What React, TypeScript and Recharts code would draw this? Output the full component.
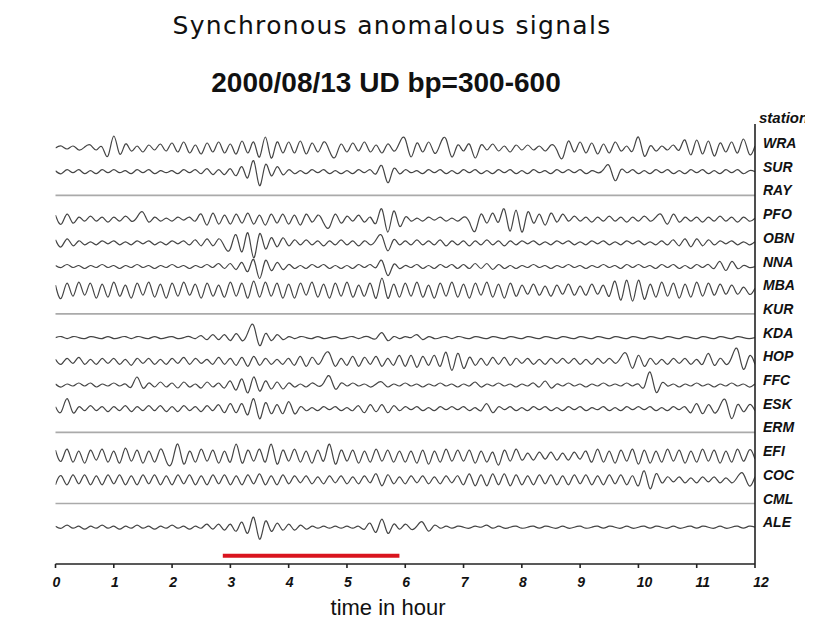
import React from "react";
import {
  LineChart,
  Line,
  XAxis,
  YAxis,
  ReferenceLine,
} from "recharts";

// hour ticks and sample step (traces sampled every 0.1 h)
const HOURS = [0, 1, 2, 3, 4, 5, 6, 7, 8, 9, 10, 11, 12];
const STEP = 0.1;

const STATIONS = [
  "WRA", "SUR", "RAY", "PFO", "OBN", "NNA", "MBA", "KUR", "KDA",
  "HOP", "FFC", "ESK", "ERM", "EFI", "COC", "CML", "ALE",
];

// band-passed amplitudes (px-ish units, up = positive)
const WRA = [
  0, 2, -1, 2, -2, 1, 3, -2, 1, -8,
  12, -6, 4, -3, 2, -4, 3, -2, 4, -3,
  5, -4, 6, -5, 3, -6, 5, -4, 6, -5,
  4, -6, 7, -5, 6, -9, 11, -10, 6, -5,
  6, -5, 7, -6, 5, -4, 6, -3, -9, 4,
  -4, 5, -3, 6, -4, 3, -5, 4, -3, 5,
  9, -9, 5, -4, 6, -5, 4, 9, -9, 3,
  -3, 4, -10, 3, -2, 4, -3, 2, -4, 3,
  -2, 3, -2, 2, -3, 3, -2, -10, 7, -4,
  6, -5, 5, -6, 4, -5, 6, -3, 2, -3,
  11, -8, 2, -3, 2, -2, 3, -2, 8, -7,
  8, -6, 7, -8, 5, -4, 6, -5, 9, -6,
  2,
];
const SUR = [
  1, -2, 2, -1, 2, -2, 1, -2, 2, -1,
  2, -1, 1, -2, 2, -1, 2, -2, 1, -1,
  1, -2, 2, -1, 2, -2, 3, -3, 2, -3,
  3, -4, 5, -6, 11, -14, 7, -4, 5, -3,
  2, -2, 1, -2, 2, -1, 2, -2, 1, -2,
  1, -2, 2, -1, 2, -2, 6, -11, 3, -2,
  2, -1, 1, -2, 2, -1, 2, -2, 1, -2,
  2, -1, 2, -2, 1, -2, 2, -1, 2, -2,
  1, -2, 2, -1, 1, -2, 2, -1, 2, -1,
  2, -2, 1, -1, 2, 6, -9, 2, -1, 2,
  -2, 1, -2, 2, -1, 2, -2, 1, -2, 2,
  -1, 2, -2, 1, -2, 2, -1, 2, -2, 1,
  0,
];
const PFO = [
  4, -5, 5, -4, 2, -2, 3, -2, 2, -3,
  2, -2, 3, -2, 2, 7, -3, 2, -2, 1,
  -2, 2, -1, 2, -2, 5, -6, 6, -5, 4,
  -5, 5, -4, 6, -5, 4, -6, 5, -4, 5,
  -5, 4, -6, 5, -3, 4, -4, -8, 5, -4,
  3, -2, 4, -3, 2, -4, 10, -13, 8, -7,
  2, -2, 1, -2, 2, -1, 2, -2, 1, -2,
  2, -3, -12, 5, -4, 6, -3, 10, -12, 9,
  -13, 7, -4, 5, -6, 6, -3, 5, -2, 3,
  -2, 2, -3, 2, -2, 3, -2, 2, -3, 2,
  -2, 3, -2, 2, 4, -5, 5, -3, 2, -2,
  2, -3, 2, -2, 3, -2, 2, -3, 2, -2,
  1,
];
const OBN = [
  3, -4, 4, -3, 2, -2, 1, -2, 2, -1,
  2, -2, 1, -2, 2, -1, 2, -2, 1, -2,
  2, -1, 2, -2, 3, -3, 4, -3, 4, -4,
  -6, 8, -9, 10, -15, 9, -6, 5, -4, 5,
  -3, 3, -2, 3, -2, 2, -3, 2, -2, 3,
  -2, 2, -3, 2, -2, 3, 7, -8, 3, -2,
  2, -2, 3, -2, 2, -2, 3, -3, 2, -2,
  2, -3, 2, -2, 3, -2, 2, -3, 2, -2,
  2, -1, 2, -2, 1, -2, 2, -1, 2, -2,
  1, -2, 2, -1, 2, -2, 1, -2, 2, -1,
  2, -2, 1, -2, 2, -2, 3, -3, 4, -4,
  4, -3, 3, -2, 2, -1, 2, -2, 1, -2,
  1,
];
const NNA = [
  1, -1, 2, -1, 1, -2, 1, -1, 2, -1,
  1, -2, 1, -1, 2, -1, 1, -2, 1, -1,
  2, -1, 1, -2, 1, -1, 2, -1, 3, -2,
  3, -3, 4, -5, 7, -12, 6, -4, 4, -3,
  2, -2, 1, -2, 2, -1, 2, -2, 1, -2,
  1, -2, 2, -1, 2, -1, 6, -9, 2, -2,
  1, -1, 2, -2, 1, -2, 2, -1, 2, -2,
  2, -2, 3, -2, 3, -3, 2, -2, 1, -2,
  1, -1, 2, -1, 1, -2, 1, -1, 2, -1,
  1, -2, 1, -1, 2, -1, 1, -2, 2, -1,
  2, -1, 1, -2, 2, -1, 2, -2, 1, -2,
  2, -1, 2, -2, 5, -4, 5, -2, 1, -1,
  0,
];
const MBA = [
  5, -8, 7, -6, 8, -5, 7, -8, 6, -7,
  8, -6, 5, -8, 7, -5, 8, -7, 6, -8,
  7, -6, 8, -5, 6, -8, 7, -6, 5, -7,
  8, -6, 7, -8, 9, -7, 8, -6, 7, -8,
  6, -8, 7, -5, 8, -7, 6, -8, 7, -6,
  8, -7, 5, -6, 7, -8, 12, -8, 6, -7,
  7, -6, 8, -7, 5, -8, 7, -6, 8, -7,
  6, -8, 7, -5, 8, -7, 6, -8, 7, -6,
  5, -4, 6, -5, 4, -6, 5, -4, 6, -5,
  4, -5, 6, -4, 5, -6, 9, -10, 10, -11,
  10, -9, 6, -7, 8, -6, 7, -8, 6, -7,
  8, -6, 7, -5, 6, -4, 5, -4, 3, -4,
  2,
];
const KDA = [
  0, 1, -1, 1, 0, -1, 1, 0, -1, 1,
  -1, 0, 1, -1, 1, 0, -1, 1, -1, 0,
  1, -1, 0, 1, -1, 2, -2, 3, -2, 3,
  -3, 4, -3, 5, 12, -8, 4, -3, 3, -2,
  1, -1, 1, 0, -1, 1, -1, 0, 1, -1,
  0, 1, -1, 1, 0, -1, 5, -3, 1, -1,
  1, 0, 3, -2, 1, -1, 0, 1, -1, 1,
  0, -1, 1, 0, -1, 1, 0, -1, 1, 0,
  -1, 1, 0, -1, 1, 0, -1, 1, 0, -1,
  1, 0, -1, 1, 0, -1, 1, 0, -1, 1,
  0, -1, 1, 0, -1, 1, 0, -1, 1, 0,
  -1, 1, 0, -1, 1, 0, -1, 1, 0, -1,
  0,
];
const HOP = [
  2, -3, 3, -2, 4, -3, 2, -3, 3, -2,
  3, -3, 2, -4, 3, -2, 3, -3, 2, -3,
  3, -2, 4, -3, 3, -2, 2, -3, 4, -3,
  3, -4, 4, -5, 5, -4, 3, -3, 2, -3,
  3, -4, 5, -5, 4, -3, 5, 8, -5, 3,
  -4, 5, -5, 4, -3, 5, -5, 3, -4, 6,
  -5, 6, -6, 5, -4, 6, -5, 9, -9, 8,
  -7, 4, -4, 3, -4, 4, -3, 4, -4, 3,
  -2, 3, -3, 2, -3, 3, -2, 3, -2, 3,
  -3, 2, -3, 3, -2, 3, -2, 4, 7, -7,
  6, -5, 3, -3, 2, -3, 3, -2, 3, -3,
  2, -3, 8, -4, 3, -3, 4, 12, -8, 5,
  -3,
];
const FFC = [
  1, -2, 1, -1, 2, -1, 2, -2, 1, -1,
  2, -1, 1, -2, 8, -3, 2, -2, 3, -2,
  2, -3, 3, -2, 1, -3, 3, -2, 2, -3,
  4, -5, 6, -8, 8, -6, 4, -4, 3, -4,
  2, -2, 1, -2, 2, -1, 2, 9, -4, 2,
  -1, 2, -1, 1, -2, 1, 3, -2, 1, -1,
  2, -1, 1, -2, 1, -1, 2, -1, 1, -2,
  1, -1, 3, -2, 1, -1, 2, -1, 1, -2,
  1, -1, 2, -2, 4, -3, 1, -1, 2, -1,
  1, -2, 1, -1, 2, -1, 1, -1, 2, -1,
  1, -2, 13, -7, 2, -1, 1, -2, 1, -1,
  2, -1, 1, -2, 1, -1, 2, -1, 1, -2,
  1,
];
const ESK = [
  2, -3, 10, -4, 2, -2, 3, -2, 2, -3,
  2, -2, 3, -3, 2, -2, 3, -2, 3, -3,
  2, -3, 3, -2, 2, -3, 3, -2, 4, -4,
  5, -4, 5, -6, 10, -10, 6, -5, 4, -5,
  7, -5, 2, -2, 1, -2, 2, -1, 2, -2,
  1, -2, 3, -4, 4, -3, 4, -4, 3, -2,
  2, -1, 2, -2, 1, -2, 2, -1, 2, -1,
  2, -2, 1, -2, 5, -4, 2, -1, 2, -2,
  1, -2, 2, -1, 2, -2, 1, -2, 2, -1,
  2, -2, 1, -1, 2, -2, 1, -2, 2, -1,
  2, -1, 2, -2, 1, -2, 2, -1, 2, -4,
  5, -5, 4, -4, 3, 8, -10, 4, -3, 4,
  -2,
];
const EFI = [
  6, -5, 7, -6, 5, -7, 6, -4, 7, -6,
  5, -7, 8, -5, 6, -7, 5, -6, 7, -5,
  -6, 12, -8, 5, -6, 7, -5, 6, -7, 5,
  -6, 12, -7, 6, -5, 7, -6, 12, -8, 6,
  -5, 7, -6, 5, -7, 6, -5, 12, -8, 6,
  -5, 6, -7, 5, -6, 7, -5, 6, -6, 5,
  -6, 5, -7, 6, -8, 5, -6, 7, -5, 6,
  -5, 6, -7, 5, -6, 4, -9, 6, -5, 7,
  -4, 3, -4, 4, -3, 4, -4, 3, -4, 4,
  -3, 5, -6, 7, -6, 5, -7, 6, -5, 7,
  -8, 6, -7, 5, -6, 7, -5, 6, -7, 5,
  -6, 7, -5, 6, -7, 5, -6, 7, -5, 6,
  -3,
];
const COC = [
  -5, 4, -5, 5, -4, 5, -5, 4, -5, 5,
  -4, 5, -5, 4, -5, 5, -4, 5, -5, 4,
  -5, 5, -4, 5, -5, 4, -5, 5, -4, 5,
  -5, 4, -5, 5, -4, 6, -5, 4, -5, 5,
  -4, 4, -3, 4, -4, 3, -4, 4, -3, 4,
  -4, 3, -4, 4, -3, 6, -6, 5, -4, 3,
  -4, 4, -3, 4, -4, 3, -4, 4, -3, 4,
  -5, 6, -6, 5, -6, 6, -5, 6, -6, 5,
  -5, 4, -5, 5, -4, 5, -5, 4, -5, 5,
  -4, 5, -5, 4, -5, 5, -4, 5, -5, 4,
  -6, 9, -9, 6, -3, 3, -2, 3, -3, 2,
  -3, 3, -2, 3, -3, 2, -3, 3, 6, -6,
  3,
];
const ALE = [
  1, -1, 2, -1, 1, -2, 1, -1, 2, -1,
  1, -2, 1, -1, 2, -1, 1, -2, 1, -1,
  2, -1, 1, -2, 1, -1, 3, -2, 3, -3,
  3, -4, 5, -6, 10, -12, 6, -4, 4, -3,
  3, -3, 2, -2, 1, -1, 1, -1, 1, -1,
  1, -1, 1, -2, 4, -5, 8, -6, 3, -2,
  3, -2, 1, 5, -4, 2, -1, 1, -1, 1,
  0, -1, 1, 0, 2, -1, 1, -1, 0, 1,
  -1, 0, 1, -1, 1, 0, -1, 1, -1, 0,
  1, -1, 0, 1, -1, 1, 0, -1, 1, -1,
  0, 1, -1, 1, 0, -1, 1, -1, 0, 1,
  -1, 1, 0, -1, 1, -1, 0, 1, -1, 1,
  0,
];

// stations with no usable record are drawn as flat grey lines
const TRACES: Record<string, number[] | null> = {
  WRA, SUR, RAY: null, PFO, OBN, NNA, MBA, KUR: null, KDA,
  HOP, FFC, ESK, ERM: null, EFI, COC, CML: null, ALE,
};

// window of the synchronous signal (hours)
const ANOMALY_WINDOW = [2.87, 5.9];

const SPACING = 23.7;
const Y_DOMAIN = [-24, 416];
const FONT = "'Liberation Sans', Arial, Helvetica, sans-serif";

const rows = WRA.map((_, k) => {
  const row: Record<string, number> = { t: Math.round(k * STEP * 10) / 10 };
  STATIONS.forEach((s, i) => {
    const tr = TRACES[s];
    if (tr) row[s] = i * SPACING - tr[k];
  });
  return row;
});

const HourTick = (props: any) => {
  const { x, y, payload } = props;
  const label = String(payload.value);
  return (
    <text
      x={x + (label.length > 1 ? 6 : 1)}
      y={y}
      dy={17}
      textAnchor="middle"
      fontFamily={FONT}
      fontWeight="bold"
      fontStyle="italic"
      fontSize={14}
      fill="#111"
    >
      {label}
    </text>
  );
};

const StationTick = (props: any) => {
  const { y, payload } = props;
  const idx = Math.round(payload.value / SPACING);
  return (
    <text
      x={755}
      y={y}
      textAnchor="start"
      fontFamily={FONT}
      fontWeight="bold"
      fontStyle="italic"
      fontSize={14}
      fill="#111"
    >
      {STATIONS[idx]}
    </text>
  );
};

export default function App() {
  return (
    <div style={{ position: "relative", width: 822, height: 628 }}>
      <LineChart
        width={822}
        height={628}
        data={rows}
        margin={{ top: 116, right: 0, bottom: 42, left: 47.5 }}
      >
        <XAxis
          dataKey="t"
          type="number"
          domain={[0, 12]}
          ticks={HOURS}
          interval={0}
          allowDataOverflow
          height={30}
          tickSize={4}
          tickMargin={2}
          stroke="#222"
          strokeWidth={1.6}
          tick={<HourTick />}
        />
        <XAxis
          xAxisId="top"
          dataKey="t"
          type="number"
          orientation="top"
          domain={[0, 12]}
          ticks={HOURS}
          interval={0}
          height={0}
          tickSize={4}
          stroke="#222"
          strokeWidth={1.4}
          tickFormatter={() => ""}
        />
        <YAxis
          yAxisId="left"
          type="number"
          domain={Y_DOMAIN}
          reversed
          allowDataOverflow
          width={0}
          tick={false}
          tickLine={false}
          stroke="#222"
          strokeWidth={1.6}
        />
        <YAxis
          yAxisId="names"
          orientation="right"
          type="number"
          domain={Y_DOMAIN}
          reversed
          allowDataOverflow
          width={75}
          ticks={STATIONS.map((_, i) => i * SPACING)}
          interval={0}
          tickLine={false}
          stroke="#222"
          strokeWidth={1.6}
          tick={<StationTick />}
        />
        {STATIONS.map((s, i) =>
          TRACES[s] ? null : (
            <ReferenceLine
              key={s}
              yAxisId="left"
              y={i * SPACING}
              stroke="#aaa"
              strokeWidth={1.6}
            />
          )
        )}
        {STATIONS.filter((s) => TRACES[s]).map((s) => (
          <Line
            key={s}
            yAxisId="left"
            dataKey={s}
            type="natural"
            stroke="#444"
            strokeWidth={1.2}
            dot={false}
            isAnimationActive={false}
          />
        ))}
        <ReferenceLine
          yAxisId="left"
          segment={[
            { x: ANOMALY_WINDOW[0], y: 17.2 * SPACING },
            { x: ANOMALY_WINDOW[1], y: 17.2 * SPACING },
          ]}
          stroke="#d9141e"
          strokeWidth={4}
        />
      </LineChart>
      <svg
        width={822}
        height={628}
        style={{ position: "absolute", left: 0, top: 0, pointerEvents: "none" }}
      >
        <defs>
          <clipPath id="stationClip">
            <rect x={740} y={100} width={57} height={30} />
          </clipPath>
        </defs>
        <text
          x={384}
          y={26}
          textAnchor="middle"
          fontFamily="'DejaVu Sans', Verdana, sans-serif"
          fontSize={25}
          letterSpacing={1.3}
          fill="#111"
        >
          Synchronous anomalous signals
        </text>
        <text
          x={378}
          y={84}
          textAnchor="middle"
          fontFamily={FONT}
          fontWeight="bold"
          fontSize={28}
          fill="#111"
        >
          2000/08/13 UD bp=300-600
        </text>
        <text
          x={380}
          y={607}
          textAnchor="middle"
          fontFamily={FONT}
          fontSize={22}
          fill="#111"
        >
          time in hour
        </text>
        <text
          x={751}
          y={115}
          clipPath="url(#stationClip)"
          fontFamily={FONT}
          fontWeight="bold"
          fontStyle="italic"
          fontSize={15}
          fill="#111"
        >
          station
        </text>
      </svg>
    </div>
  );
}
